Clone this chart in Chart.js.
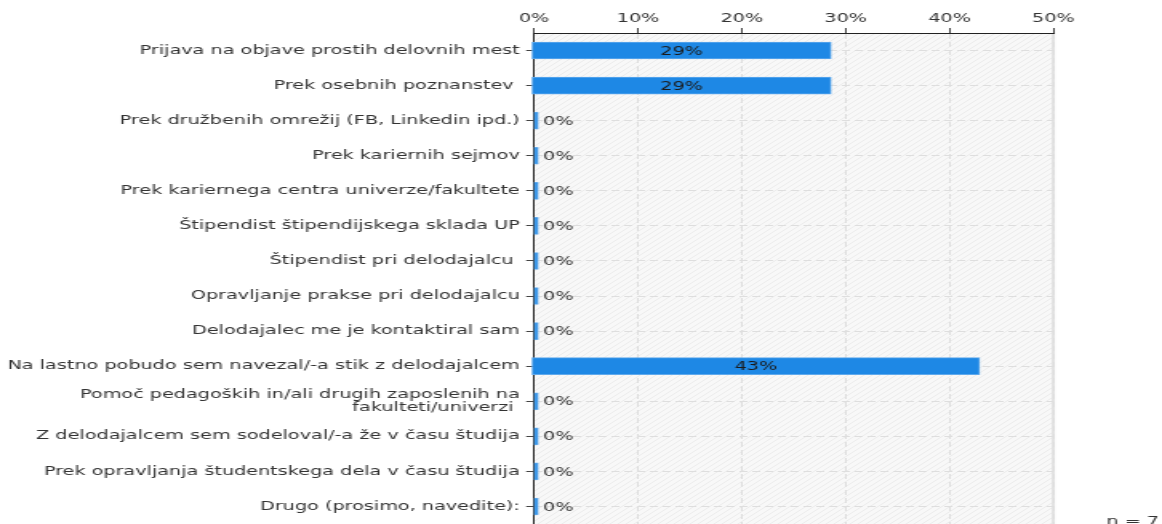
<!DOCTYPE html>
<html>
<head>
<meta charset="utf-8">
<script src="https://cdn.jsdelivr.net/npm/chart.js@4/dist/chart.umd.min.js"></script>
<style>
  html, body { margin: 0; padding: 0; background: #fff; }
  #wrap { width: 1162px; height: 524px; overflow: hidden; }
</style>
</head>
<body>
<div id="wrap"><canvas id="chart"></canvas></div>
<script>
// --- data ---
const categories = [
    'Prijava na objave prostih delovnih mest',
    'Prek osebnih poznanstev ',
    'Prek družbenih omrežij (FB, Linkedin ipd.)',
    'Prek kariernih sejmov',
    'Prek kariernega centra univerze/fakultete',
    'Štipendist štipendijskega sklada UP',
    'Štipendist pri delodajalcu ',
    'Opravljanje prakse pri delodajalcu',
    'Delodajalec me je kontaktiral sam',
    'Na lastno pobudo sem navezal/-a stik z delodajalcem',
    ['Pomoč pedagoških in/ali drugih zaposlenih na', 'fakulteti/univerzi '],
    'Z delodajalcem sem sodeloval/-a že v času študija',
    'Prek opravljanja študentskega dela v času študija',
    'Drugo (prosimo, navedite):'
];
const shares = [28.6, 28.6, 0, 0, 0, 0, 0, 0, 0, 42.9, 0, 0, 0, 0];
const xTicks = [0, 10, 20, 30, 40, 50];
const respondents = 7;

// the original picture is stretched sideways, so draw narrow and stretch the canvas
const SX = 1.6;
const W = Math.round(1162 / SX);
const H = 560;
const LEFT = 534 / SX;
const RIGHT = 1053 / SX;
const TOP = 33;
const BOTTOM = 524;

const font = { family: '"DejaVu Sans", Verdana, sans-serif', size: 12, lineHeight: 1.1 };
const textColor = '#333';

const canvas = document.getElementById('chart');
canvas.width = W;
canvas.height = H;
canvas.style.width = '1162px';
canvas.style.height = H + 'px';

function makeHatch(ctx) {
    const c = document.createElement('canvas');
    c.width = 5; c.height = 5;
    const p = c.getContext('2d');
    p.fillStyle = '#f8f8f8';
    p.fillRect(0, 0, 5, 5);
    p.strokeStyle = '#ececec';
    p.lineWidth = 1;
    p.beginPath();
    p.moveTo(0, 5); p.lineTo(5, 0);
    p.moveTo(-2.5, 2.5); p.lineTo(2.5, -2.5);
    p.moveTo(2.5, 7.5); p.lineTo(7.5, 2.5);
    p.stroke();
    return ctx.createPattern(c, 'repeat');
}

// plot background + right frame
const backdrop = {
    id: 'backdrop',
    beforeDraw(chart) {
        const { ctx, chartArea: a } = chart;
        ctx.save();
        ctx.fillStyle = makeHatch(ctx);
        ctx.fillRect(a.left, a.top, a.width, a.height);
        ctx.strokeStyle = '#e2e2e2';
        ctx.lineWidth = 2;
        ctx.beginPath();
        ctx.moveTo(a.right, a.top);
        ctx.lineTo(a.right, a.bottom);
        ctx.stroke();
        ctx.restore();
    }
};

// value labels and the "n = 7" note
const valueLabels = {
    id: 'valueLabels',
    afterDatasetsDraw(chart) {
        const { ctx } = chart;
        const meta = chart.getDatasetMeta(0);
        ctx.save();
        ctx.font = `${font.size}px ${font.family}`;
        ctx.textBaseline = 'middle';
        meta.data.forEach((bar, i) => {
            const v = shares[i];
            const text = Math.round(v) + '%';
            if (v > 0) {
                ctx.fillStyle = '#1b1b1b';
                ctx.textAlign = 'center';
                ctx.fillText(text, (bar.x + bar.base) / 2, bar.y + 1);
            } else {
                ctx.fillStyle = textColor;
                ctx.textAlign = 'left';
                ctx.fillText(text, bar.x + 3, bar.y + 1);
            }
        });
        ctx.restore();
    },
    afterDraw(chart) {
        const { ctx } = chart;
        ctx.save();
        ctx.font = `${font.size}px ${font.family}`;
        ctx.fillStyle = textColor;
        ctx.textAlign = 'left';
        ctx.textBaseline = 'top';
        ctx.fillText('n = ' + respondents, 1106 / SX, 516);
        ctx.restore();
    }
};

new Chart(canvas, {
    type: 'bar',
    data: {
        labels: categories,
        datasets: [{
            data: shares,
            base: -0.2,
            backgroundColor: '#1e88e5',
            borderColor: '#5fa9ec',
            borderWidth: 1,
            borderSkipped: false,
            barThickness: 17,
            minBarLength: 2.5,
            clip: false
        }]
    },
    options: {
        indexAxis: 'y',
        responsive: false,
        animation: false,
        devicePixelRatio: 1,
        layout: { padding: { left: 0, top: 0, right: W - RIGHT, bottom: H - BOTTOM } },
        plugins: {
            legend: { display: false },
            tooltip: { enabled: false }
        },
        scales: {
            x: {
                type: 'linear',
                position: 'top',
                min: xTicks[0],
                max: xTicks[xTicks.length - 1],
                afterBuildTicks: (scale) => { scale.ticks = xTicks.map(v => ({ value: v })); },
                afterFit: (scale) => { scale.height = TOP; },
                ticks: { color: textColor, font: font, padding: 3, callback: (v) => v + '%' },
                grid: { color: '#dedede', tickColor: '#444', tickLength: 5 },
                border: { color: '#222', width: 1, dash: [5, 3] }
            },
            y: {
                type: 'category',
                afterFit: (scale) => { scale.width = LEFT; },
                ticks: { color: textColor, font: font, padding: 4, autoSkip: false },
                grid: { offset: false, color: '#dedede', tickColor: '#444', tickLength: 5 },
                border: { color: '#222', width: 1, dash: [5, 3] }
            }
        }
    },
    plugins: [backdrop, valueLabels]
});
</script>
</body>
</html>
